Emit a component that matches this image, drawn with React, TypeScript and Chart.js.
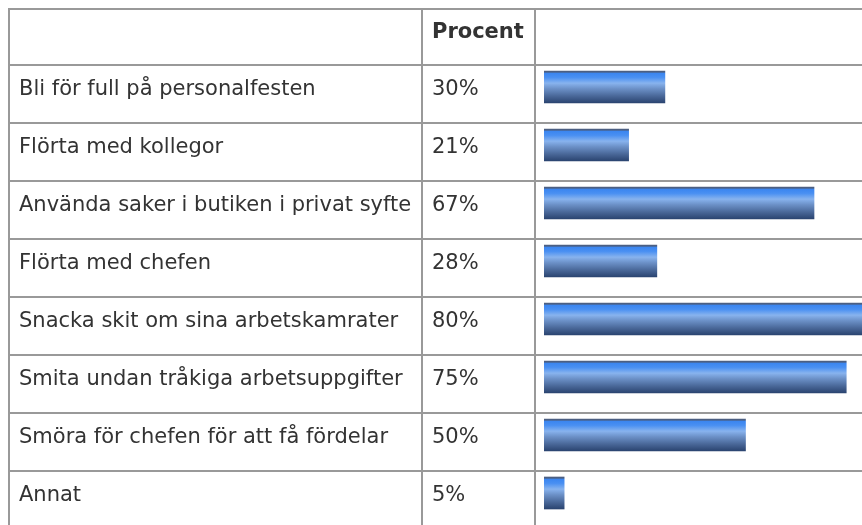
import { useEffect, useRef } from "react";
import { Chart, registerables } from "chart.js";

Chart.register(...registerables);

const categories = [
  "Bli för full på personalfesten",
  "Flörta med kollegor",
  "Använda saker i butiken i privat syfte",
  "Flörta med chefen",
  "Snacka skit om sina arbetskamrater",
  "Smita undan tråkiga arbetsuppgifter",
  "Smöra för chefen för att få fördelar",
  "Annat",
];
const percentValues = [30, 21, 67, 28, 80, 75, 50, 5];
const percentLabels = percentValues.map((v) => `${v}%`);
const headerLabel = "Procent";

const FONT = "'DejaVu Sans', Verdana, sans-serif";
const LINE = "#999999";
const TEXT = "#333333";

const tablePlugin = {
  id: "tablePlugin",
  beforeDatasetsDraw(chart: any) {
    const { ctx } = chart;
    const y = chart.scales.y;
    ctx.save();
    ctx.strokeStyle = LINE;
    ctx.lineWidth = 2;
    ctx.beginPath();
    ctx.moveTo(8, 9);
    ctx.lineTo(chart.width, 9);
    categories.forEach((_, i) => {
      const c = y.getPixelForValue(i);
      const ly = Math.round(c - 22);
      ctx.moveTo(8, ly);
      ctx.lineTo(chart.width, ly);
    });
    [9, 422, 535].forEach((x) => {
      ctx.moveTo(x, 8);
      ctx.lineTo(x, chart.height);
    });
    ctx.stroke();

    ctx.fillStyle = TEXT;
    ctx.textBaseline = "middle";
    ctx.textAlign = "left";
    ctx.font = `bold 21px ${FONT}`;
    ctx.fillText(headerLabel, 432, 33);
    ctx.font = `21px ${FONT}`;
    categories.forEach((label, i) => {
      const c = y.getPixelForValue(i);
      ctx.fillText(label, 19, c + 3);
      ctx.fillText(percentLabels[i], 432, c + 3);
    });
    ctx.restore();
  },
};

function barGradient(context: any) {
  const chart = context.chart;
  const y = chart.scales?.y;
  const fallback = "#4e80c8";
  if (!y || context.dataIndex === undefined) return fallback;
  const c = y.getPixelForValue(context.dataIndex);
  if (!Number.isFinite(c)) return fallback;
  const top = c - 16;
  const bottom = c + 16;
  const g = chart.ctx.createLinearGradient(0, top, 0, bottom);
  g.addColorStop(0, "#4c5f82");
  g.addColorStop(0.04, "#4c5f82");
  g.addColorStop(0.06, "#3a85f0");
  g.addColorStop(0.2, "#4a90f2");
  g.addColorStop(0.38, "#88b3ee");
  g.addColorStop(0.55, "#6c91c8");
  g.addColorStop(0.78, "#4a6899");
  g.addColorStop(1, "#2a4470");
  return g;
}

export default function App() {
  const ref = useRef<HTMLCanvasElement | null>(null);
  useEffect(() => {
    if (!ref.current) return;
    const chart = new Chart(ref.current, {
      type: "bar",
      data: {
        labels: categories,
        datasets: [
          {
            data: percentValues,
            backgroundColor: barGradient,
            borderWidth: 0,
            barThickness: 32,
          },
        ],
      },
      options: {
        indexAxis: "y",
        responsive: false,
        animation: false,
        layout: { padding: { left: 544, right: 13, top: 58, bottom: 3 } },
        plugins: { legend: { display: false }, tooltip: { enabled: false } },
        scales: {
          x: { display: false, min: 0, max: 100 },
          y: { display: false },
        },
      },
      plugins: [tablePlugin],
    });
    return () => chart.destroy();
  }, []);
  return (
    <div
      style={{
        position: "fixed",
        left: 0,
        top: 0,
        width: 862,
        height: 525,
        overflow: "hidden",
        background: "#ffffff",
      }}
    >
      <canvas ref={ref} width={960} height={525} style={{ display: "block" }} />
    </div>
  );
}
